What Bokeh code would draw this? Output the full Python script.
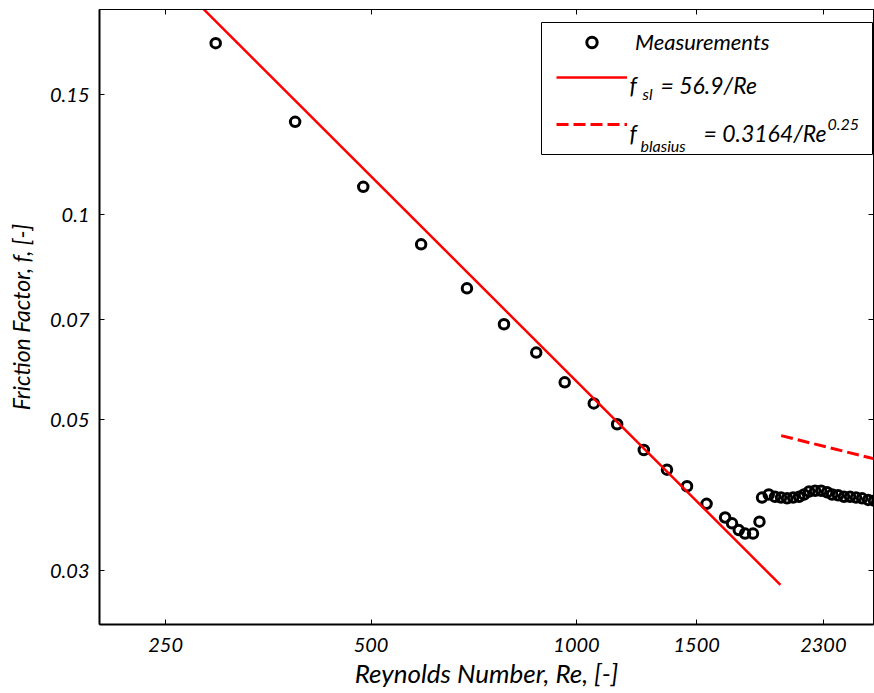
from bokeh.plotting import figure
from bokeh.models import (Range1d, LogAxis, FixedTicker, NumeralTickFormatter, Legend,
                          LegendItem, BoxAnnotation, Label, CustomJSTickFormatter)
from bokeh.embed import file_html
from bokeh.resources import INLINE

# ---------------- data ----------------
re_meas = [296, 387, 487, 592, 691, 783, 873, 961, 1060, 1147, 1255, 1357, 1452, 1551,
           1651, 1690, 1729, 1766, 1814, 1854, 1870, 1913, 1954, 1994, 2035, 2077, 2119,
           2155, 2192, 2237, 2283, 2329, 2369, 2417, 2466, 2517, 2568, 2621, 2675, 2729]
f_meas = [0.1785, 0.1368, 0.1098, 0.0904, 0.0779, 0.0690, 0.0627, 0.0567, 0.0528, 0.0492,
          0.0451, 0.0422, 0.0399, 0.0376, 0.0359, 0.0352, 0.0344, 0.0340, 0.0340, 0.0354,
          0.0384, 0.0388, 0.0385, 0.0384, 0.0383, 0.0384, 0.0385, 0.0388, 0.0392, 0.0393,
          0.0393, 0.0391, 0.0388, 0.0387, 0.0385, 0.0385, 0.0384, 0.0383, 0.0381, 0.0380]

re_sl = [280, 1990]          # f_sl = 56.9/Re
f_sl = [0.2032, 0.02859]
re_bl = [1995, 3000]         # f_blasius = 0.3164/Re^0.25
f_bl = [0.04734, 0.04275]

x_ticks = [250, 500, 1000, 1500, 2300]
y_ticks = [0.03, 0.05, 0.07, 0.1, 0.15]

FONT = "Lato"

p = figure(width=874, height=693, x_axis_type="log", y_axis_type="log",
           x_range=Range1d(200, 2724), y_range=Range1d(0.025, 0.2),
           output_backend="svg", toolbar_location=None,
           min_border_left=99, min_border_top=9, min_border_bottom=69, min_border_right=1)
p.background_fill_color = "white"
p.border_fill_color = "white"
p.outline_line_color = "black"
p.outline_line_width = 1
p.grid.visible = False


def style_axis(ax, show_labels=True):
    ax.major_tick_in = 5
    ax.major_tick_out = 0
    ax.minor_tick_in = 0
    ax.minor_tick_out = 0
    ax.major_tick_line_color = "black"
    ax.major_tick_line_width = 1
    ax.axis_line_color = "black"
    ax.axis_line_width = 2
    if show_labels:
        ax.major_label_text_font = FONT
        ax.major_label_text_font_style = "italic"
        ax.major_label_text_font_size = "20px"
        ax.major_label_text_color = "black"
        ax.axis_label_text_font = FONT
        ax.axis_label_text_font_style = "italic"
        ax.axis_label_text_color = "black"
    else:
        ax.formatter = CustomJSTickFormatter(code="return ''")
        ax.major_label_text_font_size = "1px"
        ax.major_label_standoff = 0
        ax.axis_line_width = 1


xax = p.xaxis[0]
xax.ticker = FixedTicker(ticks=x_ticks, minor_ticks=[])
xax.formatter = NumeralTickFormatter(format="0")
xax.axis_label = "Reynolds Number, Re, [-]"
style_axis(xax)
xax.axis_label_text_font_size = "26px"
xax.major_label_standoff = 13
xax.axis_label_standoff = 2

yax = p.yaxis[0]
yax.ticker = FixedTicker(ticks=y_ticks, minor_ticks=[])
yax.formatter = NumeralTickFormatter(format="0.[00]")
yax.axis_label = "Friction Factor, f, [-]"
style_axis(yax)
yax.axis_label_text_font_size = "23px"
yax.major_label_standoff = 10
yax.axis_label_standoff = 12

top_ax = LogAxis(ticker=FixedTicker(ticks=x_ticks, minor_ticks=[]))
style_axis(top_ax, show_labels=False)
p.add_layout(top_ax, "above")
right_ax = LogAxis(ticker=FixedTicker(ticks=y_ticks, minor_ticks=[]))
style_axis(right_ax, show_labels=False)
p.add_layout(right_ax, "right")

# ---------------- glyphs ----------------
r_m = p.scatter(re_meas, f_meas, marker="circle", size=9.5, fill_color=None,
                line_color="black", line_width=3)
r_sl = p.line(re_sl, f_sl, line_color="#ff0000", line_width=2.5)
r_bl = p.line(re_bl, f_bl, line_color="#ff0000", line_width=3, line_dash="12 5")

# ---------------- legend ----------------
box = BoxAnnotation(left=442, right=773, bottom=470, top=602,
                    left_units="screen", right_units="screen",
                    bottom_units="screen", top_units="screen",
                    fill_color="white", fill_alpha=1.0,
                    line_color="black", line_width=1, line_alpha=1.0)
p.add_layout(box)


def mk_legend(renderer, label, y):
    lg = Legend(items=[LegendItem(label=label, renderers=[renderer])], location=(457, y),
                border_line_color=None, background_fill_alpha=0, padding=0, margin=0,
                glyph_width=71, glyph_height=26, label_height=26, label_standoff=8,
                spacing=0, label_text_font=FONT, label_text_font_style="italic",
                label_text_font_size="22px", label_text_color="black")
    p.add_layout(lg)


mk_legend(r_m, "Measurements", 569)
mk_legend(r_sl, " ", 534)
mk_legend(r_bl, " ", 487)


def lab(x, y, text, size="23px"):
    p.add_layout(Label(x=x, y=y, x_units="screen", y_units="screen", text=text,
                       text_font=FONT, text_font_style="italic", text_font_size=size,
                       text_color="black", text_baseline="alphabetic", text_align="left"))


lab(530, 540, "f")
lab(543, 531, "sl", "16px")
lab(561, 540, "= 56.9/Re")
lab(530, 492, "f")
lab(541, 479, "blasius", "16px")
lab(604, 492, "= 0.3164/Re")
lab(728, 500, "0.25", "16px")

open("out.html", "w").write(file_html(p, INLINE))
